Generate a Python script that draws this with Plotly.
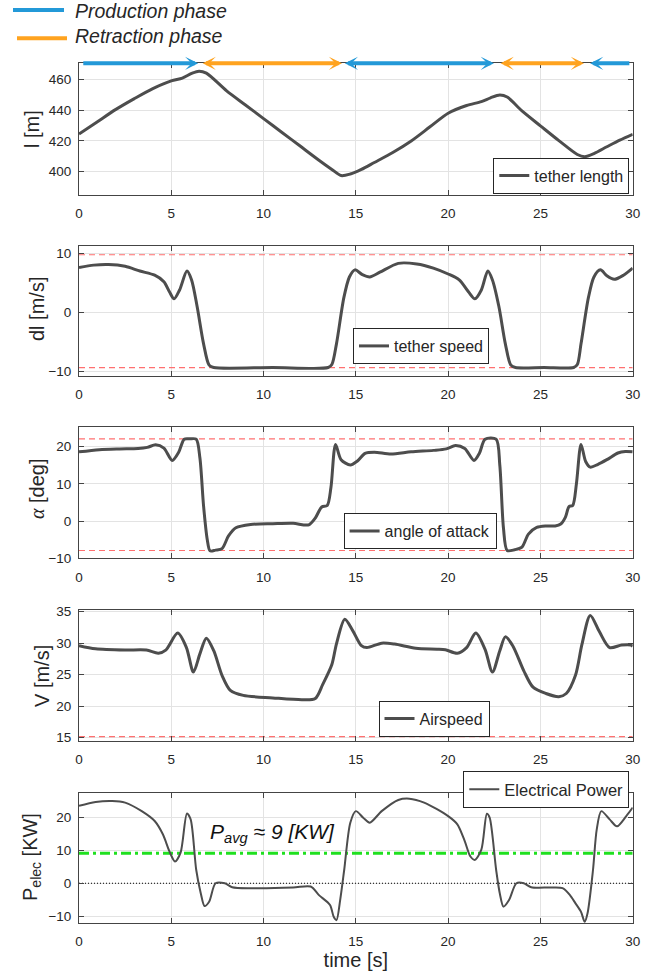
import plotly.graph_objects as go

# ------------------------------------------------------------------ data
tether_t = [0, 1, 2, 3, 4, 5, 5.6, 6.1, 6.5, 6.9, 8, 9, 10, 11, 12, 13, 13.7, 14.2,
            14.7, 15.3, 16, 17, 18, 19, 20, 21, 21.8, 22.3, 22.8, 23.2, 24, 25, 26,
            27, 27.4, 27.9, 28.6, 29.3, 30]
tether_len = [424.5, 432.5, 440.5, 447.5, 454, 459, 460.8, 463.8, 465.3, 464.0, 452.5,
              443.5, 434.5, 425.5, 416.5, 407.5, 401.5, 397.5, 398.5, 401.5, 406, 412.5,
              420, 429, 438, 443, 445.5, 448, 449.8, 448.5, 439.5, 429.8, 420.2, 411.2,
              409.8, 411.8, 416.2, 420.5, 424.3]

speed_t = [0, 0.8, 1.6, 2.5, 3.3, 4.1, 4.6, 4.9, 5.15, 5.45, 5.85, 6.1, 6.4, 6.75, 7.05,
           7.3, 10.5, 13.5, 13.7, 13.95, 14.35, 14.65, 14.95, 15.35, 15.75, 16.3, 17.3,
           18.3, 19.2, 20.0, 20.6, 21.1, 21.45, 21.8, 22.15, 22.4, 22.75, 23.1, 23.4,
           23.65, 25.2, 26.8, 27.0, 27.2, 27.6, 27.9, 28.25, 28.6, 29.0, 29.5, 30]
speed = [7.6, 8.0, 8.1, 7.8, 7.0, 6.3, 5.2, 3.5, 2.3, 3.8, 7.0, 5.5, 1.0, -5.3, -8.9,
         -9.3, -9.3, -9.3, -8.8, -5.3, 2.5, 6.0, 7.2, 6.4, 6.0, 6.8, 8.3, 8.2, 7.5, 6.5,
         5.5, 3.5, 2.3, 3.8, 7.0, 5.5, 1.0, -5.3, -8.9, -9.3, -9.3, -9.3, -8.8, -5.3,
         2.5, 6.0, 7.2, 6.2, 5.6, 6.3, 7.5]

alpha_t = [0, 1.1, 2.2, 3.2, 3.7, 4.15, 4.6, 5.05, 5.4, 5.7, 6.0, 6.35, 6.55, 6.75, 6.95,
           7.1, 7.4, 7.75, 8.1, 8.5, 9.3, 10.5, 11.6, 12.45, 12.8, 13.15, 13.45, 13.65,
           13.9, 14.2, 14.7, 15.1, 15.5, 16.0, 16.9, 18.0, 19.2, 19.9, 20.4, 20.9, 21.4,
           21.7, 22.0, 22.6, 22.8, 23.0, 23.2, 23.6, 24.0, 24.35, 24.8, 25.3, 25.8, 26.1,
           26.35, 26.55, 26.75, 26.95, 27.2, 27.45, 27.7, 28.1, 28.6, 29.2, 29.6, 30]
alpha = [18.6, 19.2, 19.4, 19.5, 19.8, 20.5, 19.6, 16.3, 18.5, 22.0, 22.1, 22.0, 17, 4,
         -5, -8, -7.8, -7.4, -4, -1.8, -0.9, -0.7, -0.6, -1.0, 0.8, 3.8, 4.2, 9, 20.6,
         16.5, 15.1, 16.2, 18.2, 18.5, 18.0, 18.6, 19.0, 19.4, 20.3, 19.5, 16.3, 18.3,
         22.0, 22.0, 15, -2, -7.9, -7.7, -7.0, -3.5, -1.7, -1.3, -1.3, -0.8, 1.0, 3.9,
         4.2, 10, 20.6, 16, 14.5, 15.2, 16.5, 18.3, 18.7, 18.6]

air_t = [0, 0.9, 2.5, 3.65, 4.3, 4.7, 5.35, 5.82, 6.2, 6.55, 6.9, 7.3, 7.76, 8.2, 8.9,
         10.5, 12.1, 12.8, 13.2, 13.7, 13.95, 14.4, 14.83, 15.3, 15.6, 16.4, 17.1, 18.25,
         19.4, 19.85, 20.5, 21.0, 21.5, 22.0, 22.4, 22.8, 23.1, 23.5, 24.1, 24.6, 25.3,
         26.0, 26.4, 26.9, 27.25, 27.7, 28.2, 28.75, 29.4, 29.9, 30]
airspeed = [29.6, 29.1, 28.9, 28.9, 28.4, 28.9, 31.6, 29.3, 25.4, 28.3, 30.8, 28.8, 24.8,
            22.5, 21.7, 21.3, 21.0, 21.2, 23.4, 26.6, 29.9, 33.8, 32.0, 29.6, 29.3, 30.0,
            29.85, 29.2, 29.05, 28.95, 28.4, 29.3, 31.6, 29.0, 25.4, 28.8, 31.0, 29.6,
            25.6, 23.0, 22.0, 21.5, 22.0, 24.9, 29.8, 34.4, 31.8, 29.3, 29.7, 29.7, 29.5]

power_t = [0, 0.9, 1.8, 2.5, 3.4, 4.1, 4.55, 4.9, 5.2, 5.5, 5.85, 6.05, 6.35, 6.6, 6.8,
           7.05, 7.4, 7.9, 8.3, 9.35, 11.6, 12.55, 13.0, 13.6, 13.8, 13.95, 14.15, 14.37,
           14.7, 15.0, 15.4, 15.75, 16.4, 17.3, 17.9, 18.7, 20.0, 20.5, 20.9, 21.2,
           21.45, 21.8, 22.1, 22.25, 22.6, 22.8, 23.0, 23.3, 23.7, 24.1, 24.5, 25.55,
           26.2, 26.6, 26.9, 27.2, 27.4, 27.55, 27.85, 28.05, 28.3, 28.75, 29.15, 29.65, 30]
power = [23.5, 24.7, 25.0, 24.5, 21.9, 18.9, 14.8, 9.7, 6.6, 9.2, 21.2, 19.4, 4.1, -3.1,
         -6.9, -5.6, 0, 0, -1.2, -1.5, -1.3, -1.0, -3.6, -6.6, -10.2, -11.2, -5.1, 4.1,
         18.4, 21.9, 19.9, 18.4, 21.9, 25.3, 25.7, 24.5, 20.4, 17.9, 12.8, 8.2, 7.1,
         10.2, 21.1, 19.9, 4.1, -3.1, -7.1, -5.1, 0, 0, -1.2, -1.3, -1.5, -3.6, -6.1,
         -8.7, -11.7, -9.2, 4.1, 16.3, 21.9, 19.4, 17.3, 20.4, 23.0]

speed_limits = [9.75, -9.3]
alpha_limits = [22.1, -7.9]
airspeed_limits = [15.15]
power_avg = 9.1
power_zero = 0

phase_names = {"prod": "Production phase", "retr": "Retraction phase"}
phase_kind = ["prod", "retr", "prod", "retr", "prod"]
phase_start = [0.15, 6.62, 14.32, 22.76, 27.69]
phase_end = [6.46, 14.25, 22.48, 27.36, 29.9]
phase_heads = ["end", "both", "both", "both", "start"]

x_ticks = [0, 5, 10, 15, 20, 25, 30]
t_span = [0, 30]

# ------------------------------------------------------------------ style
W, H = 660, 979
FONT = "Liberation Sans, Arial, Helvetica, sans-serif"
TXT = "#262626"
AX = "#444444"
GRID = "#e3e3e3"
LINE = "#4d4d4d"
RED = "#ff7070"
GREEN = "#1fe01f"
BLUE = "#2399d8"
ORANGE = "#ffa31f"
PHASE_COL = {"prod": BLUE, "retr": ORANGE}

PX_L, PX_R = 79, 632.7
panels = [(63.3, 195.0), (246.0, 376.0), (427.3, 558.3), (610.0, 740.7), (792.7, 923.0)]
y_ranges = [[384.9, 470.4], [-10.73, 11.23], [-10.0, 25.2], [14.5, 35.27], [-12.07, 27.5]]
y_ticks = [[400, 420, 440, 460], [-10, 0, 10], [-10, 0, 10, 20], [15, 20, 25, 30, 35],
           [-10, 0, 10, 20]]


def py(p):
    return 1 - p / H


def px(p):
    return p / W


fig = go.Figure()

mains = [
    (tether_t, tether_len, "tether length", 3, "legend"),
    (speed_t, speed, "tether speed", 3, "legend2"),
    (alpha_t, alpha, "angle of attack", 3, "legend3"),
    (air_t, airspeed, "Airspeed", 3, "legend4"),
    (power_t, power, "Electrical Power", 2, "legend5"),
]

for v in speed_limits:
    fig.add_trace(go.Scatter(x=t_span, y=[v, v], mode="lines", xaxis="x2", yaxis="y2",
                             line=dict(color=RED, width=1.2, dash="6px,4px"),
                             showlegend=False, hoverinfo="skip"))
for v in alpha_limits:
    fig.add_trace(go.Scatter(x=t_span, y=[v, v], mode="lines", xaxis="x3", yaxis="y3",
                             line=dict(color=RED, width=1.2, dash="6px,4px"),
                             showlegend=False, hoverinfo="skip"))
for v in airspeed_limits:
    fig.add_trace(go.Scatter(x=t_span, y=[v, v], mode="lines", xaxis="x4", yaxis="y4",
                             line=dict(color=RED, width=1.2, dash="6px,4px"),
                             showlegend=False, hoverinfo="skip"))
fig.add_trace(go.Scatter(x=t_span, y=[power_zero, power_zero], mode="lines", xaxis="x5",
                         yaxis="y5", line=dict(color="#000000", width=1, dash="1px,2px"),
                         showlegend=False, hoverinfo="skip"))
fig.add_trace(go.Scatter(x=t_span, y=[power_avg, power_avg], mode="lines", xaxis="x5",
                         yaxis="y5", line=dict(color=GREEN, width=3, dash="10px,4px,3px,4px"),
                         showlegend=False, hoverinfo="skip"))

for i, (tx, ty, name, lw, leg) in enumerate(mains):
    suffix = "" if i == 0 else str(i + 1)
    fig.add_trace(go.Scatter(x=tx, y=ty, mode="lines", name=name,
                             xaxis="x" + suffix, yaxis="y" + suffix,
                             line=dict(color=LINE, width=lw, shape="spline", smoothing=0.8),
                             legend=leg, showlegend=True))

layout = dict(width=W, height=H, margin=dict(l=0, r=0, t=0, b=0, pad=0, autoexpand=False),
              paper_bgcolor="white", plot_bgcolor="white",
              font=dict(family=FONT, color=TXT, size=13.5), showlegend=True)

for i in range(5):
    suffix = "" if i == 0 else str(i + 1)
    top, bot = panels[i]
    common = dict(ticks="inside", ticklen=5, tickcolor=AX, showline=True, linecolor=AX,
                  linewidth=1, mirror="ticks", showgrid=True, gridcolor=GRID, gridwidth=1,
                  zeroline=False, automargin=False,
                  tickfont=dict(family=FONT, size=13.5, color=TXT))
    layout["xaxis" + suffix] = dict(domain=[px(PX_L), px(PX_R)], range=t_span,
                                    tickvals=x_ticks, anchor="y" + suffix,
                                    ticklabelstandoff=6, **common)
    layout["yaxis" + suffix] = dict(domain=[py(bot), py(top)], range=y_ranges[i],
                                    tickvals=y_ticks[i], anchor="x" + suffix,
                                    ticklabelstandoff=4, **common)

layout["xaxis5"]["title"] = dict(text="time [s]", font=dict(size=20, color=TXT), standoff=4)

leg_common = dict(bgcolor="white", bordercolor="#262626", borderwidth=1,
                  xanchor="right", yanchor="middle", font=dict(family=FONT, size=16, color=TXT),
                  itemwidth=30, tracegroupgap=0)
layout["legend"] = dict(x=px(629.3), y=py(175.5), **leg_common)
layout["legend2"] = dict(x=px(489), y=py(346), **leg_common)
layout["legend3"] = dict(x=px(496.6), y=py(531), **leg_common)
layout["legend4"] = dict(x=px(489.5), y=py(718.7), **leg_common)
l5 = dict(leg_common)
l5.update(yanchor="bottom", font=dict(family=FONT, size=16.5, color=TXT))
layout["legend5"] = dict(x=px(629.3), y=py(808), **l5)

annotations = []
ytitles = [
    ("l [m]", 32, 129),
    ("dl [m/s]", 37, 309),
    ("<span style='font-family:Liberation Serif, serif'><i>α</i></span> [deg]", 37, 489),
    ("V [m/s]", 42, 676),
    ("P<sub>elec</sub> [KW]", 31, 857),
]
for txt, xx, yy in ytitles:
    annotations.append(dict(text=txt, x=px(xx), y=py(yy), xref="paper", yref="paper",
                            showarrow=False, textangle=-90, xanchor="center",
                            yanchor="middle", font=dict(family=FONT, size=20, color=TXT)))

annotations.append(dict(text="<i>P<sub>avg</sub> ≈ 9 [KW]</i>", x=10.48, y=15.2,
                        xref="x5", yref="y5", showarrow=False,
                        font=dict(family=FONT, size=21, color="#111111")))

y_top = y_ranges[0][1]
for kind, s, e, hd in zip(phase_kind, phase_start, phase_end, phase_heads):
    col = PHASE_COL[kind]
    if hd == "start":
        head_x, tail_x, side = s, e, "end"
    else:
        head_x, tail_x = e, s
        side = "end+start" if hd == "both" else "end"
    annotations.append(dict(text="", x=head_x, y=y_top, ax=tail_x, ay=y_top,
                            xref="x", yref="y", axref="x", ayref="y",
                            showarrow=True, arrowhead=3, arrowsize=0.55, arrowwidth=4,
                            startarrowhead=3, startarrowsize=0.55,
                            arrowside=side, arrowcolor=col, standoff=0, startstandoff=0))

shapes = [
    dict(type="line", xref="paper", yref="paper", x0=px(13), x1=px(64), y0=py(10), y1=py(10),
         line=dict(color=BLUE, width=4)),
    dict(type="line", xref="paper", yref="paper", x0=px(17), x1=px(67), y0=py(38.3),
         y1=py(38.3), line=dict(color=ORANGE, width=4)),
]
annotations.append(dict(text="<i>" + phase_names["prod"] + "</i>", x=px(73), y=py(11),
                        xref="paper", yref="paper", xanchor="left", yanchor="middle",
                        showarrow=False, font=dict(family=FONT, size=19.5, color=TXT)))
annotations.append(dict(text="<i>" + phase_names["retr"] + "</i>", x=px(73), y=py(35.5),
                        xref="paper", yref="paper", xanchor="left", yanchor="middle",
                        showarrow=False, font=dict(family=FONT, size=19.5, color=TXT)))

layout["annotations"] = annotations
layout["shapes"] = shapes
fig.update_layout(**layout)

fig.write_html("out.html", config={"displayModeBar": False},
               post_script="document.body.style.margin='0';document.body.style.overflow='hidden';")
